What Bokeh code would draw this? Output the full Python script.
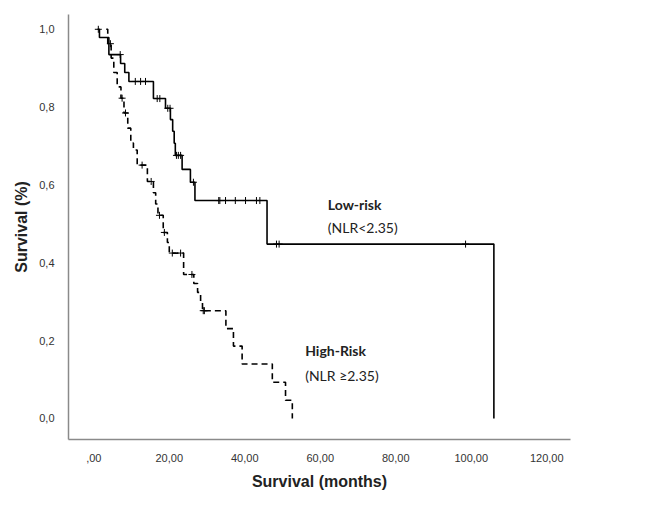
import numpy as np
from bokeh.plotting import figure
from bokeh.models import Range1d, FixedTicker
from bokeh.core.properties import value
from bokeh.embed import file_html
from bokeh.resources import INLINE

# ---------------- data ----------------
# Low-risk group (NLR<2.35)
low_start = 1.0
low_event_times = [1.5, 4.0, 7.1, 8.2, 9.3, 15.8, 19.0, 20.3, 20.9, 21.3, 21.6,
                   23.4, 25.6, 26.8, 45.9, 106.0]
low_surv = [0.979, 0.935, 0.912, 0.889, 0.866, 0.822, 0.797, 0.768, 0.738, 0.707,
            0.676, 0.640, 0.607, 0.560, 0.448, 0.0]
low_censor = [1.2, 7.0, 11.0, 12.4, 13.7, 16.8, 17.5, 19.6, 20.2, 21.9, 22.4, 23.0,
              26.4, 33.1, 33.4, 34.9, 37.5, 40.2, 43.1, 44.0, 48.4, 49.1, 98.5]

# High-risk group (NLR >=2.35)
high_start = 3.3
high_event_times = [3.7, 4.6, 5.3, 6.2, 7.2, 8.0, 9.0, 9.8, 10.5, 11.5, 14.2, 15.8,
                    16.4, 17.0, 18.4, 19.5, 20.0, 23.8, 26.5, 27.5, 28.3, 28.8,
                    35.0, 37.0, 39.3, 47.3, 50.8, 52.6]
high_surv = [0.963, 0.926, 0.889, 0.852, 0.823, 0.785, 0.746, 0.708, 0.690, 0.651,
             0.609, 0.580, 0.551, 0.522, 0.478, 0.452, 0.425, 0.370, 0.347, 0.324,
             0.300, 0.277, 0.231, 0.186, 0.140, 0.093, 0.047, 0.0]
high_censor = [4.4, 7.5, 8.4, 12.8, 15.2, 17.4, 18.7, 20.8, 23.0, 26.0, 29.0, 29.3]

x_ticks = [0, 20, 40, 60, 80, 100, 120]
x_tick_labels = [",00", "20,00", "40,00", "60,00", "80,00", "100,00", "120,00"]
y_ticks = [0.0, 0.2, 0.4, 0.6, 0.8, 1.0]
y_tick_labels = ["0,0", "0,2", "0,4", "0,6", "0,8", "1,0"]

low_label = ["Low-risk", "(NLR<2.35)"]
high_label = ["High-Risk", "(NLR \u22652.35)"]


def steps(start, times, surv):
    return [start] + list(times), [1.0] + list(surv)


def censor_y(ctimes, times, surv):
    t = np.asarray(times)
    s = np.concatenate([[1.0], np.asarray(surv)])
    idx = np.searchsorted(t, np.asarray(ctimes), side="right")
    return s[idx]


# ---------------- figure ----------------
p = figure(width=646, height=492, output_backend="svg", toolbar_location=None,
           x_range=Range1d(-6.7, 126.3), y_range=Range1d(-0.054, 1.038),
           min_border_left=68, min_border_right=76, min_border_top=14,
           min_border_bottom=48)
p.outline_line_color = None
p.xgrid.visible = False
p.ygrid.visible = False
p.background_fill_color = "white"
p.border_fill_color = "white"

lx, ly = steps(low_start, low_event_times, low_surv)
p.step(lx, ly, mode="after", line_color="black", line_width=1.6)
p.scatter(low_censor, censor_y(low_censor, low_event_times, low_surv),
          marker="cross", size=7, line_color="black", line_width=1)

hx, hy = steps(high_start, high_event_times, high_surv)
p.step(hx, hy, mode="after", line_color="black", line_width=1.6, line_dash="6 4")
p.scatter(high_censor, censor_y(high_censor, high_event_times, high_surv),
          marker="cross", size=7, line_color="black", line_width=1)

# group labels
p.text(x=[62.0], y=[0.55], text=[low_label[0]], text_font=value("Lato"),
       text_font_style="bold", text_font_size="14px", text_baseline="middle",
       text_color="#222222")
p.text(x=[62.0], y=[0.49], text=[low_label[1]], text_font=value("Lato"),
       text_font_size="14px", text_baseline="middle", text_color="#222222")
p.text(x=[56.0], y=[0.175], text=[high_label[0]], text_font=value("Lato"),
       text_font_style="bold", text_font_size="14px", text_baseline="middle",
       text_color="#222222")
p.text(x=[56.0], y=[0.11], text=[high_label[1]], text_font=value("Lato"),
       text_font_size="14px", text_baseline="middle", text_color="#222222")

# axes
for ax in (p.xaxis[0], p.yaxis[0]):
    ax.axis_line_color = "#8a8a8a"
    ax.axis_line_width = 1.5
    ax.major_tick_line_color = None
    ax.minor_tick_line_color = None
    ax.major_label_text_font = "Liberation Sans"
    ax.major_label_text_font_size = "11px"
    ax.major_label_text_color = "#333333"
    ax.axis_label_text_font = "Liberation Sans"
    ax.axis_label_text_font_style = "bold"
    ax.axis_label_text_font_size = "16px"
    ax.axis_label_text_color = "#222222"

p.xaxis.ticker = FixedTicker(ticks=x_ticks)
p.xaxis.major_label_overrides = dict(zip(x_ticks, x_tick_labels))
p.xaxis.axis_label = "Survival (months)"
p.xaxis.major_label_standoff = 8
p.xaxis.axis_label_standoff = 8

p.yaxis.ticker = FixedTicker(ticks=y_ticks)
p.yaxis.major_label_overrides = dict(zip(y_ticks, y_tick_labels))
p.yaxis.axis_label = "Survival (%)"
p.yaxis.major_label_standoff = 8
p.yaxis.axis_label_standoff = 6

open("out.html", "w").write(file_html(p, INLINE))
